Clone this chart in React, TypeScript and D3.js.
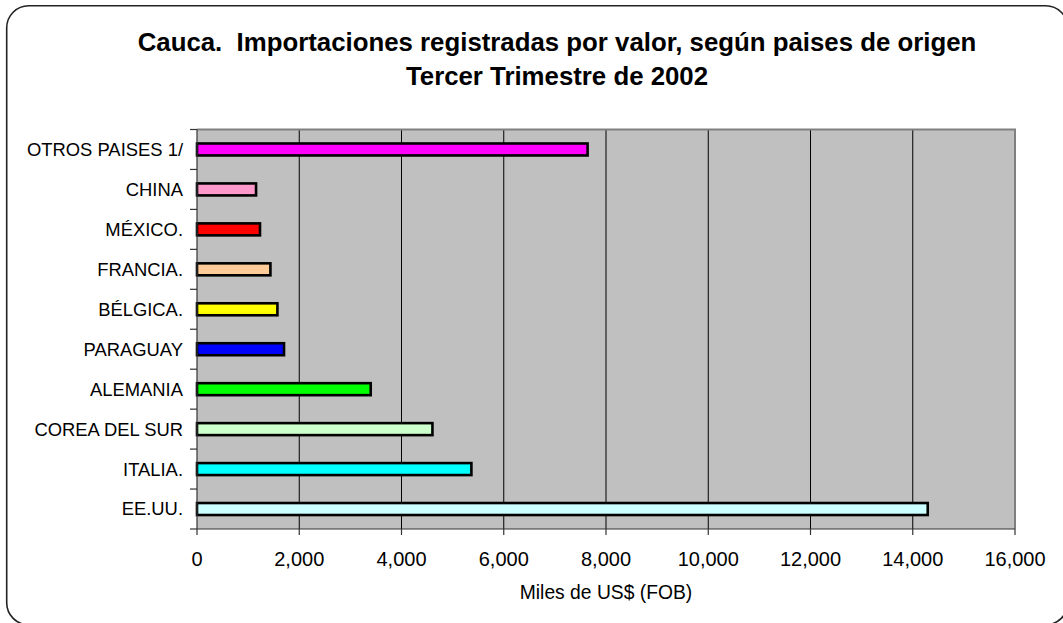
import React from "react";
import * as d3 from "d3";

// Cauca: imports by country of origin, Q3 2002 (miles de US$ FOB)
const countries = [
  "OTROS PAISES 1/",
  "CHINA",
  "MÉXICO.",
  "FRANCIA.",
  "BÉLGICA.",
  "PARAGUAY",
  "ALEMANIA",
  "COREA DEL SUR",
  "ITALIA.",
  "EE.UU.",
];
const values = [7640, 1155, 1232, 1436, 1573, 1702, 3398, 4605, 5367, 14293];
const barColors = [
  "#FF00FF",
  "#FF99CC",
  "#FF0000",
  "#FFCC99",
  "#FFFF00",
  "#0000FF",
  "#00FF00",
  "#CCFFCC",
  "#00FFFF",
  "#CCFFFF",
];
const xTicks = [0, 2000, 4000, 6000, 8000, 10000, 12000, 14000, 16000];
const titleLines = [
  "Cauca.  Importaciones registradas por valor, según paises de origen",
  "Tercer Trimestre de 2002",
];
const xTitle = "Miles de US$ (FOB)";

const W = 1063;
const H = 623;
const plot = { left: 197, right: 1015, top: 129.5, bottom: 529 };
const font = "'Liberation Sans', Arial, sans-serif";

export default function App() {
  const x = d3.scaleLinear().domain([0, 16000]).range([plot.left, plot.right]);
  const y = d3
    .scaleBand<string>()
    .domain(countries)
    .range([plot.top, plot.bottom])
    .paddingInner(0)
    .paddingOuter(0);
  const bw = y.bandwidth();
  const barH = bw * 0.3;
  const fmt = d3.format(",");

  return (
    <svg
      width={W}
      height={H}
      style={{ position: "absolute", left: 0, top: 0, background: "#fff" }}
    >
      {/* outer rounded frame */}
      <rect
        x={6.7}
        y={5.8}
        width={1061}
        height={619}
        rx={22}
        ry={22}
        fill="#fff"
        stroke="#222"
        strokeWidth={1.6}
      />

      {/* title */}
      {titleLines.map((t, i) => (
        <text
          key={i}
          x={557}
          y={51 + i * 34}
          textAnchor="middle"
          fontFamily={font}
          fontWeight="bold"
          fontSize={25.8}
          fill="#000"
          style={{ whiteSpace: "pre" }}
        >
          {t}
        </text>
      ))}

      {/* plot area */}
      <rect
        x={plot.left}
        y={plot.top}
        width={plot.right - plot.left}
        height={plot.bottom - plot.top}
        fill="#C0C0C0"
      />
      {/* gridlines */}
      {xTicks.slice(1, -1).map((t) => (
        <line
          key={t}
          x1={x(t)}
          x2={x(t)}
          y1={plot.top}
          y2={plot.bottom}
          stroke="#000"
          strokeWidth={1}
        />
      ))}
      {/* plot border top / right */}
      <path
        d={`M${plot.left},${plot.top}H${plot.right}V${plot.bottom}`}
        fill="none"
        stroke="#808080"
        strokeWidth={2}
      />

      {/* bars */}
      {countries.map((c, i) => (
        <rect
          key={c}
          x={x(0)}
          y={(y(c) as number) + bw / 2 - barH / 2}
          width={x(values[i]) - x(0)}
          height={barH}
          fill={barColors[i]}
          stroke="#000"
          strokeWidth={2.6}
        />
      ))}

      {/* y axis */}
      <line
        x1={plot.left}
        x2={plot.left}
        y1={plot.top}
        y2={plot.bottom}
        stroke="#333"
        strokeWidth={1.2}
      />
      {d3.range(countries.length + 1).map((k) => {
        const yy = plot.top + k * bw;
        return (
          <line
            key={k}
            x1={plot.left - 7}
            x2={plot.left}
            y1={yy}
            y2={yy}
            stroke="#333"
            strokeWidth={1.2}
          />
        );
      })}
      {countries.map((c) => (
        <text
          key={c}
          x={183}
          y={(y(c) as number) + bw / 2}
          dy="0.35em"
          textAnchor="end"
          fontFamily={font}
          fontSize={18.4}
          fill="#000"
        >
          {c}
        </text>
      ))}

      {/* x axis */}
      <line
        x1={plot.left}
        x2={plot.right}
        y1={plot.bottom}
        y2={plot.bottom}
        stroke="#333"
        strokeWidth={1.2}
      />
      {xTicks.map((t) => (
        <g key={t}>
          <line
            x1={x(t)}
            x2={x(t)}
            y1={plot.bottom}
            y2={plot.bottom + 6}
            stroke="#333"
            strokeWidth={1.2}
          />
          <text
            x={x(t)}
            y={566}
            textAnchor="middle"
            fontFamily={font}
            fontSize={20}
            fill="#000"
          >
            {fmt(t)}
          </text>
        </g>
      ))}
      <text
        x={(plot.left + plot.right) / 2}
        y={599}
        textAnchor="middle"
        fontFamily={font}
        fontSize={19.3}
        fill="#000"
      >
        {xTitle}
      </text>
    </svg>
  );
}
